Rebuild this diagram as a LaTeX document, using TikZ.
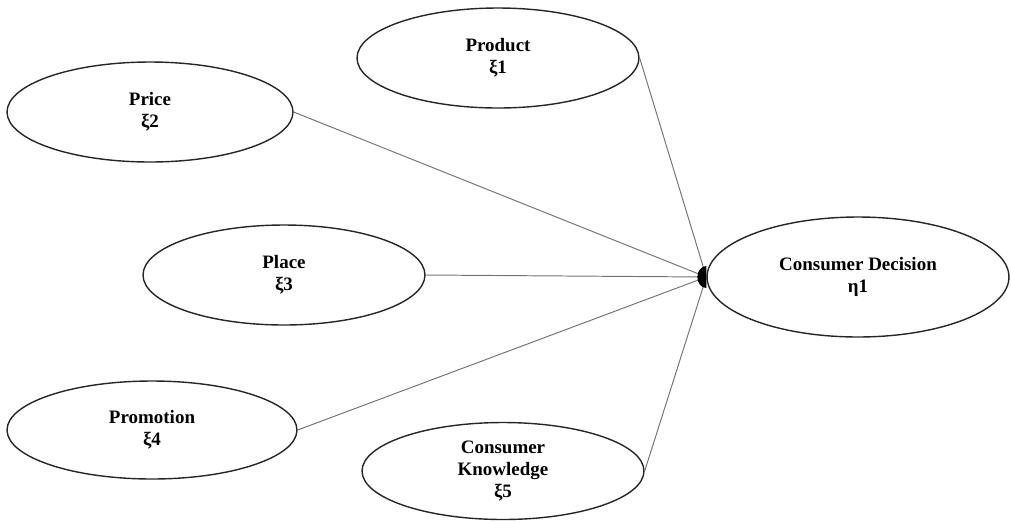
\documentclass[tikz,border=0pt]{standalone}
\usepackage{fontspec}
\setmainfont{Liberation Serif}
\usetikzlibrary{shapes.geometric}
\begin{document}
\begin{tikzpicture}[x=0.02cm,y=-0.02cm,
  construct/.style={draw=black!85,line width=0.8pt,ellipse,inner sep=0pt,align=center,
    font=\fontsize{10.8}{12.5}\selectfont\bfseries},
  path/.style={draw=black!55,line width=0.55pt}]
\useasboundingbox (0,0) rectangle (1011,522);
\node[construct,minimum width=5.64cm,minimum height=2.0cm] (prod) at (498,58) {Product\\ξ1};
\node[construct,minimum width=5.72cm,minimum height=2.0cm] (price) at (150,112) {Price\\ξ2};
\node[construct,minimum width=5.64cm,minimum height=2.0cm] (place) at (284,275) {Place\\ξ3};
\node[construct,minimum width=5.8cm,minimum height=1.96cm] (promo) at (152,430) {Promotion\\ξ4};
\node[construct,minimum width=5.64cm,minimum height=1.94cm] (know) at (503,471) {Consumer\\Knowledge\\ξ5};
\node[construct,minimum width=6.04cm,minimum height=2.4cm] (dec) at (858,277) {Consumer Decision\\η1};
\coordinate (j) at (dec.west);
\draw[path] (prod.east) -- (j);
\draw[path] (price.east) -- (j);
\draw[path] (place.east) -- (j);
\draw[path] (promo.east) -- (j);
\draw[path] (know.east) -- (j);
\fill[black] ([yshift=0.22cm]j) arc[start angle=90,end angle=270,x radius=0.18cm,y radius=0.22cm] -- cycle;
\end{tikzpicture}
\end{document}
